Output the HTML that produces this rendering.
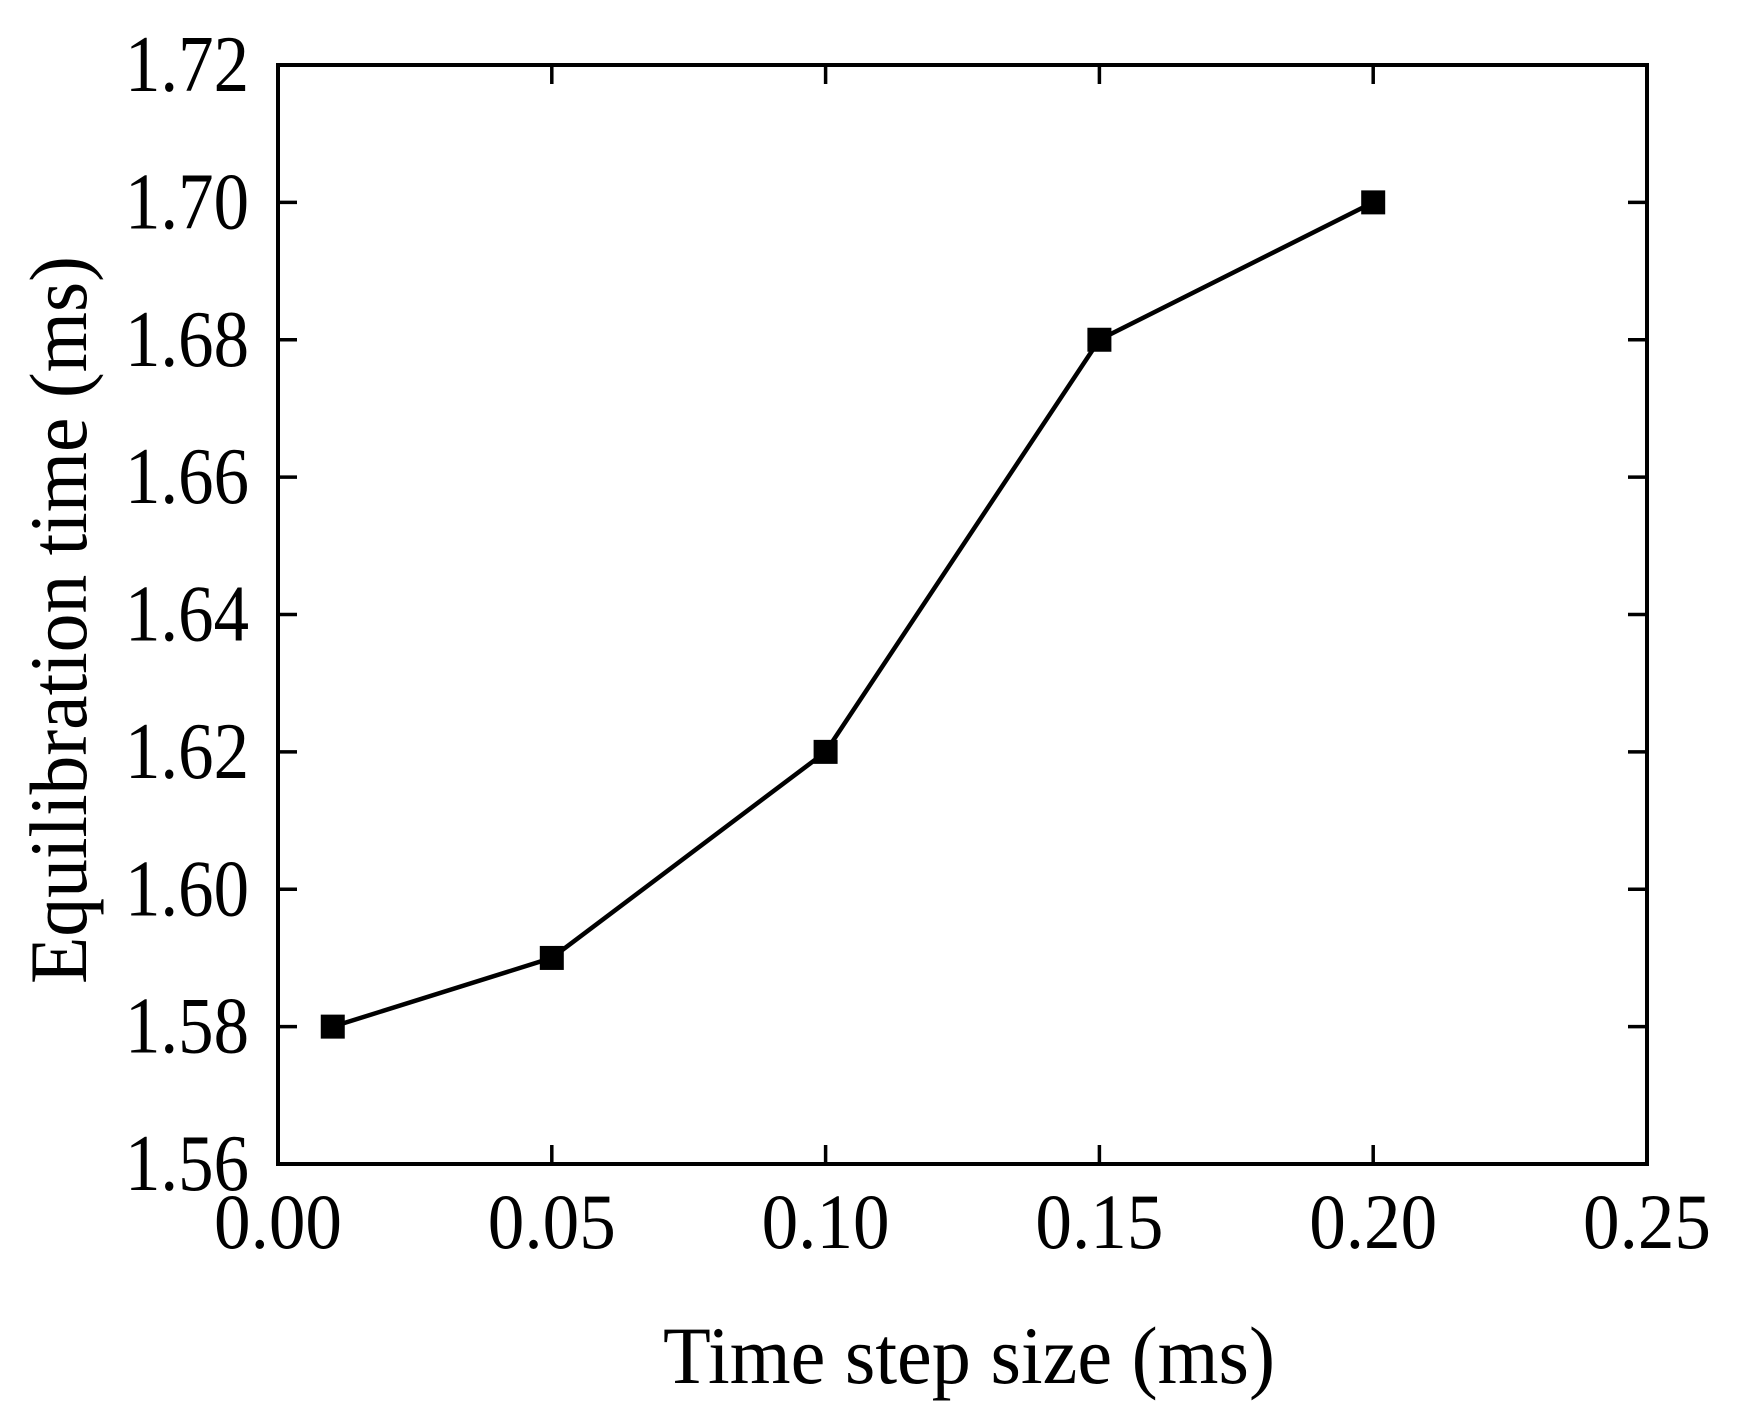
<!DOCTYPE html>
<html><head><meta charset="utf-8"><style>
html,body{margin:0;padding:0;background:#fff;}
svg{display:block;}
text{font-family:"Liberation Serif",serif;fill:#000;}
</style></head><body>
<svg id="chart" width="1744" height="1418" viewBox="0 0 1744 1418" xmlns="http://www.w3.org/2000/svg">
</svg>
<script>
const xValues = [0.01, 0.05, 0.10, 0.15, 0.20];
const yValues = [1.58, 1.59, 1.62, 1.68, 1.70];
const xTicks = [0.00, 0.05, 0.10, 0.15, 0.20, 0.25];
const yTicks = [1.56, 1.58, 1.60, 1.62, 1.64, 1.66, 1.68, 1.70, 1.72];
const xTickLabels = ["0.00","0.05","0.10","0.15","0.20","0.25"];
const yTickLabels = ["1.56","1.58","1.60","1.62","1.64","1.66","1.68","1.70","1.72"];

const L=278, R=1647, T=65, B=1164;
const xMin=0, xMax=0.25, yMin=1.56, yMax=1.72;
function sx(v){return L+(v-xMin)/(xMax-xMin)*(R-L);}
function sy(v){return B-(v-yMin)/(yMax-yMin)*(B-T);}
const NS="http://www.w3.org/2000/svg";
const svg=document.getElementById('chart');
function mk(tag,attrs,parent){const e=document.createElementNS(NS,tag);for(const k in attrs)e.setAttribute(k,attrs[k]);(parent||svg).appendChild(e);return e;}

const frame=mk('rect',{x:L,y:T,width:R-L,height:B-T,fill:'none',stroke:'#000','stroke-width':4});



xTicks.forEach((v,i)=>{
  const x=sx(v);
  const t1=mk('line',{x1:x,y1:B,x2:x,y2:B-19,stroke:'#000','stroke-width':3.5});
  
  
  const t2=mk('line',{x1:x,y1:T,x2:x,y2:T+19,stroke:'#000','stroke-width':3.5});
  
  
  const lb=mk('text',{x:x,y:1248,'text-anchor':'middle','font-size':78,textLength:128,lengthAdjust:'spacingAndGlyphs'});
  lb.textContent=xTickLabels[i];
  
  
});
yTicks.forEach((v,i)=>{
  const y=sy(v);
  const t1=mk('line',{x1:L,y1:y,x2:L+19,y2:y,stroke:'#000','stroke-width':3.5});
  
  
  const t2=mk('line',{x1:R,y1:y,x2:R-19,y2:y,stroke:'#000','stroke-width':3.5});
  
  
  const lb=mk('text',{x:249,y:y+26,'text-anchor':'end','font-size':80,textLength:124,lengthAdjust:'spacingAndGlyphs'});
  lb.textContent=yTickLabels[i];
  
  
});

const pts=xValues.map((v,i)=>sx(v)+','+sy(yValues[i])).join(' ');
const line=mk('polyline',{points:pts,fill:'none',stroke:'#000','stroke-width':4.5});


xValues.forEach((v,i)=>{
  const m=mk('rect',{x:sx(v)-12,y:sy(yValues[i])-12,width:24,height:24,fill:'#000'});
  
  
});

const xt=mk('text',{x:969,y:1383,'text-anchor':'middle','font-size':82,textLength:612,lengthAdjust:'spacingAndGlyphs'});
xt.textContent='Time step size (ms)';


const yt=mk('text',{x:0,y:0,'text-anchor':'middle','font-size':82,textLength:728,lengthAdjust:'spacingAndGlyphs',transform:'translate(86,620) rotate(-90)'});
yt.textContent='Equilibration time (ms)';


</script>
</body></html>
